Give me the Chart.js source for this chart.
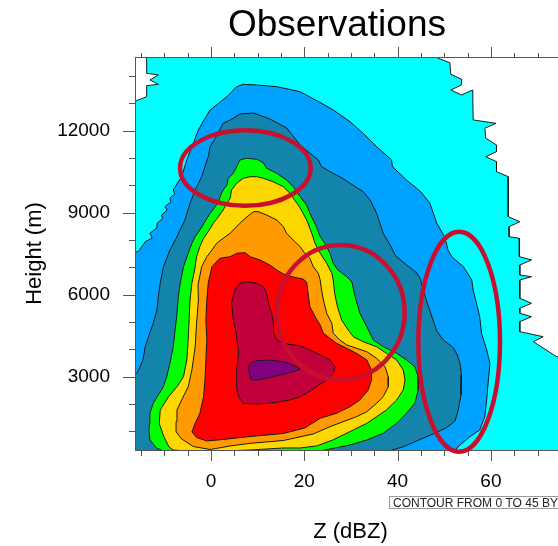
<!DOCTYPE html>
<html>
<head>
<meta charset="utf-8">
<title>Observations</title>
<script src="https://cdn.jsdelivr.net/npm/chart.js@4.4.0/dist/chart.umd.min.js"></script>
<style>
  html, body { margin: 0; padding: 0; background: #fff; }
  #wrap { width: 558px; height: 546px; overflow: hidden; }
  #wrap canvas { display: block; }
</style>
</head>
<body>
<div id="wrap"><canvas id="cfad" width="600" height="546"></canvas></div>
<script>
const FONT = "'Liberation Sans', Arial, Helvetica, sans-serif";

// contour levels (frequency, %) and their fill colours
const levels = [0, 5, 10, 15, 20, 25, 30, 35, 40];
const levelColors = ['#00FFFF', '#00A2FF', '#1385AD', '#00FF00', '#FFD700', '#FF9A00', '#FF0000', '#C2003C', '#800080'];

// outer boundary of each level, [Z (dBZ), height (m)]
const c00 = [[-25,13050],[-16.1,13090],[-13.8,13248],[-13.8,13651],[-11.3,13702],[-13.1,13859],[-11.3,14042],[-13.8,14104],[-13.8,15500],
  [48.7,15500],[48.7,14653],[51.2,14492],[51.4,14068],[53.7,13885],[53.7,13676],[51.4,13493],[53.7,13310],[56.1,13493],[56.2,12395],
  [61.1,12274],[58.7,12091],[58.9,11725],[61.2,11480],[61.2,11235],[58.9,11052],[61.2,10869],[61.2,10503],[63.7,10320],[63.7,8856],
  [66.2,8673],[63.9,8490],[63.9,8124],[66.1,8065],[66.1,7392],[68.7,7271],[66.2,7088],[66.2,6722],[68.7,6660],[66.2,6539],[66.2,5869],
  [68.7,5686],[66.2,5503],[66.2,5320],[68.7,5196],[66.2,5013],[66.2,4647],[71.2,4464],[69.1,4281],[74.1,3732],[78,3538],
  [90,3538],[90,-500],[-25,-500]];
const c05 = [[-25,7390],[-15.6,7575],[-14.1,7941],[-12.6,8080],[-13.1,8248],[-11.6,8450],[-11.6,8614],[-10.4,8780],[-10.6,8918],
  [-9.4,9100],[-9.9,9222],[-8.6,9400],[-8.8,9529],[-7.8,9700],[-8.1,9833],[-7.0,10137],[-6.3,10320],[-5.2,10931],[-3.8,11542],
  [-2.7,12029],[-1.3,12457],[-0.2,12761],[3.4,13248],[5.5,13614],[6.9,13702],[9.8,13676],[14.1,13614],[19.1,13431],[23.4,13036],
  [26.2,12761],[29.8,12333],[32.6,11908],[35.5,11418],[38.7,10931],[38.9,10686],[41.9,10199],[44.8,9797],[46.9,9357],[48.4,8614],
  [50.1,8113],[50.8,7637],[51.6,7392],[54.1,7026],[55.9,6539],[56.2,6173],[57.6,5196],[58.0,4588],[59.1,3977],[59.8,3490],
  [59.4,2758],[59.1,2152],[58.7,1536],[57.6,1049],[55.5,804],[53.4,500],[52.3,317],[52,-500],[-25,-500]];
const c10 = [[-25,2950],[-15.9,3124],[-15.2,3366],[-14.6,3611],[-14.1,4098],[-13.4,4464],[-12.4,4954],[-11.6,5441],[-11.3,5928],
  [-10.9,6418],[-10.2,7026],[-8.8,7637],[-7.3,8124],[-5.6,8735],[-4.5,9346],[-3.4,9833],[-2.0,10320],[-0.6,11052],[-0.2,11418],
  [0.9,11725],[2.6,12274],[4.1,12395],[6.2,12615],[9.1,12651],[12.6,12432],[16.2,12102],[19.1,11480],[21.2,11176],[23.0,10931],
  [23.7,10686],[25.5,10503],[27.6,10320],[29.8,10078],[32.6,9771],[34.1,9467],[35.5,8980],[36.2,8614],[36.9,8248],[38.4,7820],
  [39.6,7418],[41.9,7088],[43.9,6832],[44.8,6612],[46.2,5771],[47.6,5075],[48.4,4673],[49.8,4343],[51.9,4069],[52.8,3794],
  [53.4,3465],[53.7,3062],[53.6,2330],[53.0,1781],[52.3,1379],[50.4,1122],[47.6,903],[44.8,702],[41.2,438],[37.6,255],
  [36,-500],[-25,-500]];
const c15 = [[-10.5,-500],[-10.6,317],[-11.6,379],[-13.1,683],[-13.3,1000],[-13.2,1294],[-13.1,1660],[-12.4,2026],[-11.3,2330],
  [-10.2,2634],[-9.5,3000],[-8.8,3490],[-8.1,4098],[-7.7,4709],[-7.3,5320],[-7.0,5928],[-6.6,6430],[-5.9,7026],[-4.9,7516],
  [-4.1,7882],[-3.4,8124],[-2.4,8369],[-1.3,8673],[-0.2,8980],[0.9,9222],[1.6,9405],[2.1,9650],[2.6,9833],[3.4,10016],[3.7,10261],
  [4.8,10444],[5.5,10686],[6.2,10931],[7.6,10993],[9.8,10957],[11.2,10832],[11.9,10627],[14.1,10444],[16.2,10199],[17.6,9954],
  [19.1,9588],[20.5,9284],[21.2,8980],[22.6,8490],[23.4,8124],[24.4,7882],[25.5,7516],[26.2,7150],[27.2,6905],[29.1,6660],
  [30.2,6466],[30.9,5928],[31.9,5320],[33.4,4830],[34.8,4343],[36.9,4098],[39.8,3856],[41.9,3611],[43.7,3366],[44.4,3000],
  [44.4,2513],[43.7,2026],[41.9,1660],[39.8,1294],[36.9,928],[33.4,683],[29.8,500],[26.2,379],[22.6,255],[19.1,135],[19,-500]];
const c20 = [[-9.0,427],[-10.1,804],[-11.1,1283],[-10.9,1781],[-9.1,2268],[-7.3,2634],[-5.9,3000],[-5.2,3611],[-4.9,4343],
  [-4.7,5075],[-4.5,5807],[-4.1,6430],[-3.8,6660],[-3.4,7026],[-3.1,7392],[-2.4,7758],[-1.6,8065],[-0.6,8307],[0.5,8614],
  [1.6,8856],[2.6,9101],[3.4,9346],[4.1,9529],[4.4,9833],[5.5,10078],[6.9,10261],[8.4,10320],[9.8,10320],[11.2,10261],
  [13.3,10137],[15.5,9954],[16.9,9712],[18.4,9346],[19.1,9174],[20.5,8735],[21.6,8248],[22.3,7882],[23.4,7516],[24.8,7150],
  [25.9,6784],[26.2,6539],[26.5,6052],[27.1,5562],[28.0,5075],[29.4,4709],[30.5,4464],[32.6,4281],[35.5,4098],[37.6,3856],
  [39.8,3611],[41.2,3245],[41.6,2879],[41.2,2513],[39.8,2147],[37.6,1781],[35.5,1536],[33.4,1294],[30.5,1049],[26.1,683],
  [22.6,464],[19.1,391],[15.5,391],[8.4,317],[5.5,299],[-2.4,244],[-8.1,317]];
const c25 = [[-7.5,1356],[-7.3,1781],[-6.3,2147],[-4.9,2634],[-4.1,3245],[-3.4,4098],[-3.1,4954],[-2.7,5807],[-2.8,6356],
  [-2.0,7026],[-0.9,7392],[0.2,7637],[1.2,7882],[2.6,8065],[4.1,8248],[5.5,8490],[6.9,8735],[9.1,9039],[10.1,9039],[11.9,8918],
  [14.1,8735],[15.5,8490],[16.2,8248],[17.6,8003],[19.1,7758],[20.1,7516],[21.2,7333],[21.9,7026],[23.0,6784],[23.4,6539],
  [23.7,6173],[24.1,5807],[24.8,5320],[25.9,4954],[26.2,4588],[27.6,4343],[29.1,4160],[31.2,4039],[33.4,3915],[35.5,3673],
  [37.3,3366],[38.0,3000],[38.0,2634],[36.9,2268],[35.5,2026],[33.4,1719],[31.2,1536],[28.3,1353],[25.5,1170],[21.9,903],
  [15.5,665],[8.4,562],[4.1,464],[-0.2,335],[-3.8,445],[-6.3,720],[-7.5,987]];
const c30 = [[-0.6,6430],[0.2,7026],[1.9,7333],[4.1,7392],[5.5,7516],[7.3,7538],[8.4,7392],[10.5,7271],[12.6,7088],[14.1,6905],
  [15.5,6759],[17.6,6649],[19.7,6576],[20.5,6466],[20.9,5928],[21.2,5562],[22.3,5196],[23.4,4892],[24.1,4588],[25.5,4405],
  [26.9,4222],[29.1,4039],[31.2,3856],[33.4,3611],[34.4,3245],[34.4,2879],[33.7,2513],[31.9,2147],[29.8,1902],[26.9,1660],
  [23.4,1477],[20.1,1122],[15.5,921],[8.4,811],[2.6,702],[-0.9,647],[-3.1,775],[-4.1,980],[-3.4,1294],[-2.4,1660],[-1.6,2268],
  [-1.3,2879],[-1.1,3611],[-0.9,4343],[-1.1,5075],[-0.9,5807]];
const c35 = [[6.2,6418],[7.6,6477],[9.8,6418],[11.2,6294],[11.9,6052],[12.3,5686],[13.0,5320],[13.4,4954],[13.4,4588],[14.1,4343],
  [15.5,4222],[19.1,4124],[21.2,3977],[23.4,3794],[25.5,3611],[26.6,3366],[26.2,3124],[24.8,2879],[22.6,2634],[20.5,2392],
  [19.1,2268],[16.9,2147],[13.4,2048],[9.8,2001],[6.9,2026],[5.9,2268],[5.4,2634],[5.5,3245],[5.9,3856],[5.5,4464],[4.8,5075],
  [4.4,5686],[5.1,6173]];
const c40 = [[8.0,3307],[8.4,3490],[9.8,3586],[12.6,3611],[15.5,3549],[17.6,3428],[19.1,3271],[17.6,3183],[14.8,3062],[11.9,2941],
  [9.8,2879],[8.7,2879],[8.4,3000]];
const contours = [c00, c05, c10, c15, c20, c25, c30, c35, c40];

// axes
const zRange = [-16.3, 76.1];
const hRange = [317, 14700];
const zTickLabels = [0, 20, 40, 60];
const hTickLabels = [3000, 6000, 9000, 12000];

// highlighted regions: centre Z, centre height, Z radius, height radius
const ringZ = [7.35, 27.8, 53.2];
const ringH = [10635, 5349, 4281];
const ringRZ = [14.0, 13.7, 8.75];
const ringRH = [1383, 2470, 4025];

const datasets = contours.map((poly, i) => {
  const pts = poly.map(p => ({ x: p[0], y: p[1] }));
  pts.push(pts[0]);
  return {
    label: 'L' + levels[i],
    data: pts,
    fill: 'shape',
    backgroundColor: levelColors[i],
    borderColor: '#1a1a1a',
    borderWidth: 1,
    pointRadius: 0,
    tension: 0,
    order: contours.length - i
  };
});

// plot frame and minor/major tick marks on all sides
const frame = {
  id: 'frame',
  afterDatasetsDraw(c) {
    const { ctx, chartArea: a, scales: { x, y } } = c;
    ctx.save();
    ctx.strokeStyle = '#555';
    ctx.lineWidth = 1;
    ctx.strokeRect(Math.round(a.left) + 0.5, Math.round(a.top) + 0.5, Math.round(a.right - a.left), Math.round(a.bottom - a.top));
    ctx.beginPath();
    for (let v = -15; v <= 75; v += 5) {
      const px = Math.round(x.getPixelForValue(v)) + 0.5;
      const major = v % 20 === 0;
      ctx.moveTo(px, a.bottom); ctx.lineTo(px, a.bottom + (major ? 11 : 6));
      ctx.moveTo(px, a.top); ctx.lineTo(px, a.top - (major ? 10 : 4));
    }
    for (let v = 1000; v <= 14000; v += 1000) {
      const py = Math.round(y.getPixelForValue(v)) + 0.5;
      const major = v % 3000 === 0;
      ctx.moveTo(a.left, py); ctx.lineTo(a.left - (major ? 12 : 6), py);
      ctx.moveTo(a.right, py); ctx.lineTo(a.right + (major ? 12 : 6), py);
    }
    ctx.stroke();
    ctx.restore();
  }
};

const rings = {
  id: 'rings',
  afterDraw(c) {
    const { ctx, scales: { x, y } } = c;
    ctx.save();
    ctx.strokeStyle = '#C8102E';
    ctx.lineWidth = 4.5;
    ringZ.forEach((z, i) => {
      const cx = x.getPixelForValue(z), cy = y.getPixelForValue(ringH[i]);
      const rx = x.getPixelForValue(z + ringRZ[i]) - cx;
      const ry = cy - y.getPixelForValue(ringH[i] + ringRH[i]);
      ctx.beginPath();
      ctx.ellipse(cx, cy, rx, ry, 0, 0, Math.PI * 2);
      ctx.stroke();
    });
    ctx.restore();
  }
};

const texts = {
  id: 'texts',
  afterDraw(c) {
    const { ctx, chartArea: a } = c;
    ctx.save();
    ctx.fillStyle = '#000';
    ctx.textAlign = 'center';
    ctx.font = '37px ' + FONT;
    ctx.fillText('Observations', 337, 36);
    ctx.font = '22px ' + FONT;
    ctx.textBaseline = 'middle';
    ctx.fillText('Z (dBZ)', (a.left + a.right) / 2, 532);
    ctx.save();
    ctx.translate(35, (a.top + a.bottom) / 2);
    ctx.rotate(-Math.PI / 2);
    ctx.fillText('Height (m)', 0, 0);
    ctx.restore();
    // contour info box
    ctx.strokeStyle = '#999';
    ctx.lineWidth = 1;
    ctx.strokeRect(389.5, 496.5, 230, 12);
    ctx.textAlign = 'left';
    ctx.textBaseline = 'alphabetic';
    ctx.font = '12px ' + FONT;
    ctx.fillStyle = '#222';
    ctx.fillText('CONTOUR FROM 0 TO 45 BY 5', 393, 506.5);
    ctx.restore();
  }
};

const hiddenGrid = { display: true, drawOnChartArea: false, drawTicks: true, color: 'rgba(0,0,0,0)' };

new Chart(document.getElementById('cfad'), {
  type: 'line',
  data: { datasets },
  options: {
    responsive: false,
    animation: false,
    events: [],
    layout: { padding: { top: 57, right: 34, left: 0, bottom: 0 } },
    plugins: { legend: { display: false }, tooltip: { enabled: false }, title: { display: false } },
    scales: {
      x: {
        type: 'linear', min: zRange[0], max: zRange[1],
        afterBuildTicks: s => { s.ticks = zTickLabels.map(v => ({ value: v })); },
        afterFit: s => { s.height = 96; },
        grid: { ...hiddenGrid, tickLength: 12 },
        border: { display: false },
        ticks: { padding: 8, maxRotation: 0, autoSkip: false, color: '#000', font: { size: 19, family: FONT },
          callback: v => String(v) }
      },
      y: {
        type: 'linear', min: hRange[0], max: hRange[1],
        afterBuildTicks: s => { s.ticks = hTickLabels.map(v => ({ value: v })); },
        afterFit: s => { s.width = 135; },
        grid: { ...hiddenGrid, tickLength: 12 },
        border: { display: false },
        ticks: { padding: 13, autoSkip: false, color: '#000', font: { size: 19, family: FONT },
          callback: v => String(v) }
      }
    }
  },
  plugins: [frame, rings, texts]
});
</script>
</body>
</html>
